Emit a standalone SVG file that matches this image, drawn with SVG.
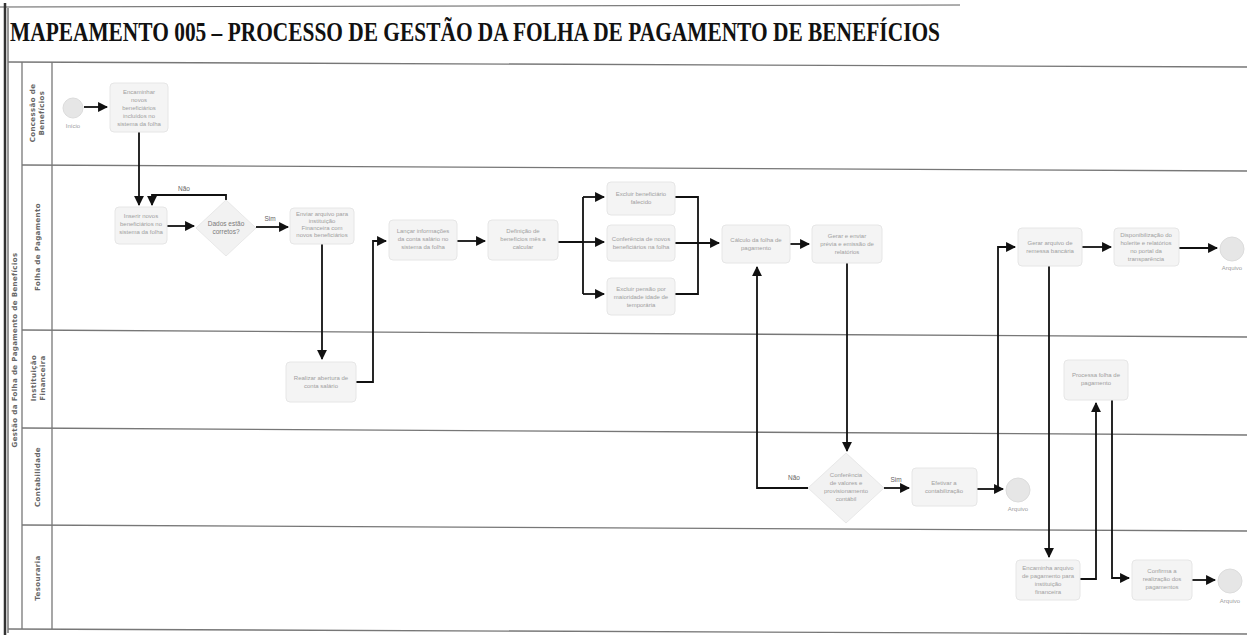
<svg xmlns="http://www.w3.org/2000/svg" width="1247" height="637" viewBox="0 0 1247 637">
<defs>
<marker id="ah" viewBox="0 0 10 10" refX="9" refY="5" markerWidth="5.5" markerHeight="5.5" orient="auto" markerUnits="strokeWidth"><path d="M0,0 L10,5 L0,10 z" fill="#111"/></marker>
<style>
.frame{stroke:#333;fill:none}
.lane{stroke:#777;stroke-width:1.3;fill:none}
.box{fill:#f4f4f4;stroke:#e6e6e6;stroke-width:1}
.dia{fill:#f2f2f2;stroke:#e8e8e8;stroke-width:1}
.ev{fill:#e6e6e6;stroke:#dcdcdc;stroke-width:1}
.t{font-family:"Liberation Sans",Arial,sans-serif;font-size:6px;fill:#a0a0a0;text-anchor:middle}
.td{font-family:"Liberation Sans",Arial,sans-serif;font-size:6.5px;fill:#7a7a7a;text-anchor:middle}
.lbl{font-family:"Liberation Sans",Arial,sans-serif;font-size:6.5px;fill:#666;text-anchor:middle}
.ln{font-family:"DejaVu Sans",sans-serif;font-size:7px;font-weight:bold;fill:#666;text-anchor:middle;letter-spacing:0.4px}
.c{stroke:#111;stroke-width:1.8;fill:none;marker-end:url(#ah)}
.cn{stroke:#111;stroke-width:1.8;fill:none}
</style>
</defs>
<rect width="1247" height="637" fill="#fff"/>
<g id="frame">
<line class="frame" x1="0" y1="7" x2="960" y2="5" stroke-width="0.8"/>
<line class="frame" x1="5" y1="3" x2="5" y2="635" stroke-width="2.5"/>
<line class="frame" x1="8" y1="8" x2="8" y2="633" stroke-width="1"/>
<text x="10" y="41" font-family="'Liberation Serif','Times New Roman',serif" font-weight="bold" font-size="27" fill="#111" textLength="930" lengthAdjust="spacingAndGlyphs">MAPEAMENTO 005 – PROCESSO DE GESTÃO DA FOLHA DE PAGAMENTO DE BENEFÍCIOS</text>
</g>
<g id="pool">
<line class="lane" x1="8" y1="62" x2="1247" y2="67"/>
<line class="lane" x1="22" y1="165" x2="1247" y2="171"/>
<line class="lane" x1="22" y1="330" x2="1247" y2="337"/>
<line class="lane" x1="22" y1="428" x2="1247" y2="435"/>
<line class="lane" x1="22" y1="525" x2="1247" y2="531"/>
<line class="lane" x1="8" y1="629" x2="1247" y2="634"/>
<line class="lane" x1="22" y1="62" x2="22" y2="629"/>
<line class="lane" x1="52" y1="62" x2="52" y2="629"/>
<text class="ln" transform="translate(17,350) rotate(-90)">Gestão da Folha de Pagamento de Benefícios</text>
<text class="ln" transform="translate(35,113) rotate(-90)">Concessão de</text>
<text class="ln" transform="translate(44,113) rotate(-90)">Benefícios</text>
<text class="ln" transform="translate(40,247) rotate(-90)">Folha de Pagamento</text>
<text class="ln" transform="translate(36,378) rotate(-90)">Instituição</text>
<text class="ln" transform="translate(45,378) rotate(-90)">Financeira</text>
<text class="ln" transform="translate(40,477) rotate(-90)">Contabilidade</text>
<text class="ln" transform="translate(40,578) rotate(-90)">Tesouraria</text>
</g>
<g id="connectors">
<path class="c" d="M84,107 H107"/>
<path class="c" d="M139,132 V205"/>
<path class="c" d="M226,200 V195 H152 V205"/>
<text class="lbl" x="184" y="191">Não</text>
<path class="c" d="M167,226 H194"/>
<path class="c" d="M256,227 H288"/>
<text class="lbl" x="270" y="221">Sim</text>
<path class="c" d="M322,244 V359"/>
<path class="c" d="M356,382 H373 V241 H386"/>
<path class="c" d="M457,241 H485"/>
<path class="cn" d="M558,242 H583 M583,197 V294"/>
<path class="c" d="M583,197 H604"/>
<path class="c" d="M583,242 H604"/>
<path class="c" d="M583,294 H604"/>
<path class="cn" d="M675,197 H698 V294 H675"/>
<path class="c" d="M675,243 H719"/>
<path class="c" d="M790,244 H809"/>
<path class="c" d="M847,263 V451"/>
<path class="c" d="M808,488 H757 V267"/>
<text class="lbl" x="794" y="480">Não</text>
<path class="c" d="M884,488 H909"/>
<text class="lbl" x="896" y="482">Sim</text>
<path class="c" d="M977,489 H1003"/>
<path class="c" d="M998,489 V247 H1015"/>
<path class="c" d="M1082,247 H1111"/>
<path class="c" d="M1179,248 H1217"/>
<path class="c" d="M1049,266 V557"/>
<path class="c" d="M1080,579 H1096 V403"/>
<path class="c" d="M1112,400 V578 H1129"/>
<path class="c" d="M1192,580 H1215"/>
</g>
<g id="inicio"><circle class="ev" cx="73" cy="108" r="10"/><text class="t" x="73" y="128">Início</text></g>
<g id="encaminhar-novos"><rect class="box" x="110" y="83" width="58" height="49" rx="4"/>
<text class="t" x="139" y="94">Encaminhar</text><text class="t" x="139" y="102">novos</text><text class="t" x="139" y="110">beneficiários</text><text class="t" x="139" y="118">incluídos no</text><text class="t" x="139" y="126">sistema da folha</text></g>
<g id="inserir-novos"><rect class="box" x="115" y="207" width="52" height="37" rx="4"/>
<text class="t" x="141" y="218">Inserir novos</text><text class="t" x="141" y="226">beneficiários no</text><text class="t" x="141" y="234">sistema da folha</text></g>
<g id="dados-corretos"><polygon class="dia" points="226,200 256,228 226,256 196,228"/>
<text class="td" x="226" y="226">Dados estão</text><text class="td" x="226" y="234">corretos?</text></g>
<g id="enviar-arquivo"><rect class="box" x="290" y="208" width="64" height="36" rx="4"/>
<text class="t" x="322" y="216">Enviar arquivo para</text><text class="t" x="322" y="223">instituição</text><text class="t" x="322" y="230">Financeira com</text><text class="t" x="322" y="237">novos beneficiários</text></g>
<g id="realizar-abertura"><rect class="box" x="286" y="362" width="70" height="40" rx="4"/>
<text class="t" x="321" y="380">Realizar abertura de</text><text class="t" x="321" y="388">conta salário</text></g>
<g id="lancar-informacoes"><rect class="box" x="389" y="220" width="68" height="40" rx="4"/>
<text class="t" x="423" y="233">Lançar informações</text><text class="t" x="423" y="241">da conta salário no</text><text class="t" x="423" y="249">sistema da folha</text></g>
<g id="definicao-beneficios"><rect class="box" x="488" y="220" width="70" height="40" rx="4"/>
<text class="t" x="523" y="233">Definição de</text><text class="t" x="523" y="241">benefícios mês a</text><text class="t" x="523" y="249">calcular</text></g>
<g id="excluir-beneficiario"><rect class="box" x="607" y="182" width="68" height="33" rx="4"/>
<text class="t" x="641" y="196">Excluir beneficiário</text><text class="t" x="641" y="204">falecido</text></g>
<g id="conferencia-novos"><rect class="box" x="607" y="225" width="68" height="36" rx="4"/>
<text class="t" x="641" y="241">Conferência de novos</text><text class="t" x="641" y="249">beneficiários na folha</text></g>
<g id="excluir-pensao"><rect class="box" x="607" y="278" width="68" height="37" rx="4"/>
<text class="t" x="641" y="291">Excluir pensão por</text><text class="t" x="641" y="299">maioridade idade de</text><text class="t" x="641" y="307">temporária</text></g>
<g id="calculo-folha"><rect class="box" x="722" y="225" width="68" height="38" rx="4"/>
<text class="t" x="756" y="242">Cálculo da folha de</text><text class="t" x="756" y="250">pagamento</text></g>
<g id="gerar-previa"><rect class="box" x="812" y="225" width="70" height="38" rx="4"/>
<text class="t" x="847" y="238">Gerar e enviar</text><text class="t" x="847" y="246">prévia e emissão de</text><text class="t" x="847" y="254">relatórios</text></g>
<g id="conferencia-valores"><polygon class="dia" points="846,453 884,488 846,523 808,488"/>
<text class="t" x="846" y="477">Conferência</text><text class="t" x="846" y="485">de valores e</text><text class="t" x="846" y="493">provisionamento</text><text class="t" x="846" y="501">contábil</text></g>
<g id="efetivar-contabilizacao"><rect class="box" x="912" y="468" width="65" height="38" rx="4"/>
<text class="t" x="944" y="485">Efetivar a</text><text class="t" x="944" y="493">contabilização</text></g>
<g id="arquivo-contabilidade"><circle class="ev" cx="1018" cy="490" r="12"/><text class="t" x="1018" y="511">Arquivo</text></g>
<g id="gerar-remessa"><rect class="box" x="1018" y="228" width="64" height="38" rx="4"/>
<text class="t" x="1050" y="245">Gerar arquivo de</text><text class="t" x="1050" y="253">remessa bancária</text></g>
<g id="disponibilizacao"><rect class="box" x="1114" y="228" width="65" height="38" rx="4"/>
<text class="t" x="1146" y="237">Disponibilização do</text><text class="t" x="1146" y="245">holerite e relatórios</text><text class="t" x="1146" y="253">no portal da</text><text class="t" x="1146" y="261">transparência</text></g>
<g id="arquivo-folha"><circle class="ev" cx="1232" cy="249" r="12"/><text class="t" x="1232" y="270">Arquivo</text></g>
<g id="processa-folha"><rect class="box" x="1064" y="360" width="64" height="40" rx="4"/>
<text class="t" x="1096" y="377">Processa folha de</text><text class="t" x="1096" y="385">pagamento</text></g>
<g id="encaminha-arquivo"><rect class="box" x="1016" y="560" width="64" height="40" rx="4"/>
<text class="t" x="1048" y="570">Encaminha arquivo</text><text class="t" x="1048" y="578">de pagamento para</text><text class="t" x="1048" y="586">instituição</text><text class="t" x="1048" y="594">financeira</text></g>
<g id="confirma-pagamentos"><rect class="box" x="1132" y="560" width="60" height="40" rx="4"/>
<text class="t" x="1162" y="573">Confirma a</text><text class="t" x="1162" y="581">realização dos</text><text class="t" x="1162" y="589">pagamentos</text></g>
<g id="arquivo-tesouraria"><circle class="ev" cx="1230" cy="581" r="12"/><text class="t" x="1230" y="603">Arquivo</text></g>
</svg>
